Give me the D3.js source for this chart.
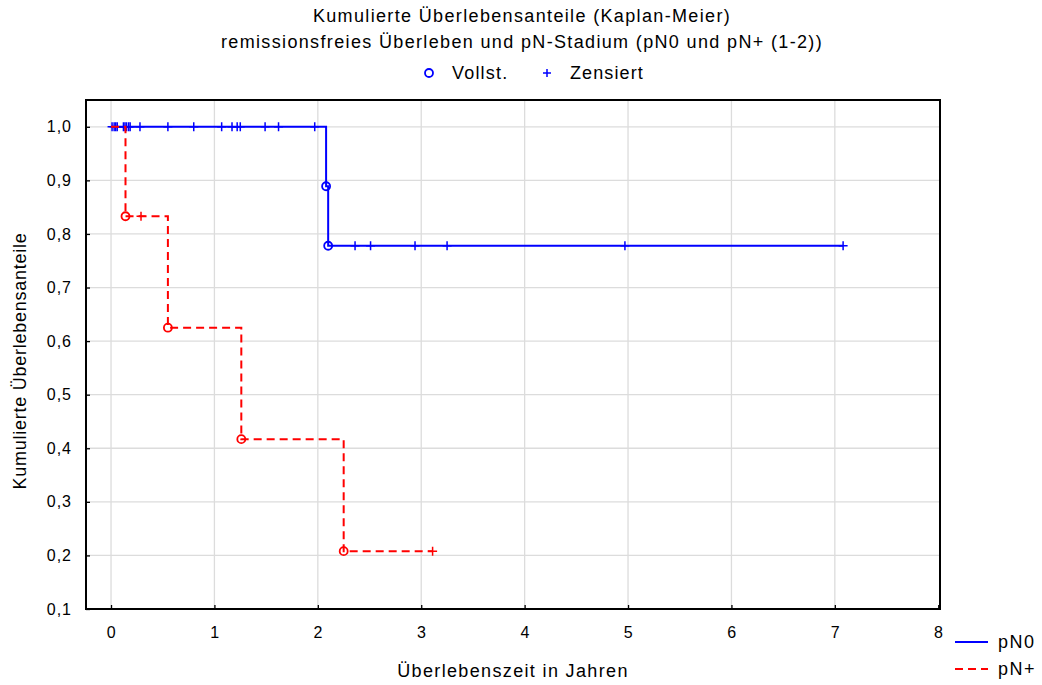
<!DOCTYPE html>
<html>
<head>
<meta charset="utf-8">
<script src="https://cdn.jsdelivr.net/npm/d3@7/dist/d3.min.js"></script>
<style>
	body { margin: 0; background: #fff; }
	text { font-family: "Liberation Sans", Arial, sans-serif; fill: #000; }
</style>
</head>
<body>
<svg id="chart" width="1042" height="685"></svg>
<script>
// Kaplan-Meier steps [time, survival]
const pN0Steps = [[0, 1], [2.08, 0.889], [2.10, 0.778], [7.08, 0.778]]
const pN0Events = [2.08, 2.10]
const pN0Censored = [0.01, 0.03, 0.045, 0.06, 0.12, 0.135, 0.15, 0.17, 0.185, 0.28, 0.55, 0.80,
	1.07, 1.17, 1.22, 1.25, 1.49, 1.62, 1.97, 2.36, 2.51, 2.94, 3.25, 4.97, 7.08]

const pNplusSteps = [[0, 1], [0.14, 0.833], [0.55, 0.625], [1.26, 0.417], [2.25, 0.208], [3.11, 0.208]]
const pNplusEvents = [0.14, 0.55, 1.26, 2.25]
const pNplusCensored = [0.29, 3.11]

const xTicks = [0, 1, 2, 3, 4, 5, 6, 7, 8]
const yTicks = [0.1, 0.2, 0.3, 0.4, 0.5, 0.6, 0.7, 0.8, 0.9, 1.0]

const titleLines = ["Kumulierte Überlebensanteile (Kaplan-Meier)",
	"remissionsfreies Überleben und pN-Stadium (pN0 und pN+ (1-2))"]

const svg = d3.select("#chart")

const x = d3.scaleLinear().domain([-0.242, 8.017]).range([86, 940])
const y = d3.scaleLinear().domain([0.1, 1.05]).range([609, 100])

//survival value at time t (value after step)
function survAt(steps, t) {
	let s = steps[0][1]
	for (let [st, sv] of steps) if (st <= t) s = sv
	return s
}

// grid
svg.append("g").selectAll("line")
	.data(xTicks.filter(d => d < 8))
	.join("line")
		.attr("x1", d => x(d)).attr("x2", d => x(d))
		.attr("y1", y(0.1)).attr("y2", y(1.05))
		.attr("stroke", "#dcdcdc").attr("stroke-width", 1.3)
svg.append("g").selectAll("line")
	.data(yTicks.filter(d => d > 0.1))
	.join("line")
		.attr("y1", d => y(d)).attr("y2", d => y(d))
		.attr("x1", x.range()[0]).attr("x2", x.range()[1])
		.attr("stroke", "#dcdcdc").attr("stroke-width", 1.3)

// axes
const xAxis = d3.axisBottom(x).tickValues(xTicks).tickSize(-4).tickPadding(18).tickFormat(d3.format("d"))
const yAxis = d3.axisLeft(y).tickValues(yTicks).tickSize(-4).tickPadding(14)
	.tickFormat(d => d3.format(".1f")(d).replace(".", ","))

svg.append("g").attr("transform", `translate(0,${y(0.1)})`).call(xAxis)
	.call(g => g.select(".domain").remove())
	.call(g => g.selectAll("text").attr("font-size", 16).attr("font-family", null).attr("letter-spacing", 0.5))
	.call(g => g.selectAll("line").attr("stroke", "#000").attr("stroke-width", 1.3))
svg.append("g").attr("transform", `translate(${x.range()[0]},0)`).call(yAxis)
	.call(g => g.select(".domain").remove())
	.call(g => g.selectAll("text").attr("font-size", 16).attr("font-family", null).attr("letter-spacing", 1))
	.call(g => g.selectAll("line").attr("stroke", "#000").attr("stroke-width", 1.3))

// frame
svg.append("rect")
	.attr("x", x.range()[0]).attr("y", y(1.05))
	.attr("width", x.range()[1] - x.range()[0]).attr("height", y(0.1) - y(1.05))
	.attr("fill", "none").attr("stroke", "#000").attr("stroke-width", 2)

const stepLine = d3.line().x(d => x(d[0])).y(d => y(d[1])).curve(d3.curveStepAfter)

function drawSeries(steps, events, censored, color, dash) {
	const g = svg.append("g")
	g.append("path")
		.attr("d", stepLine(steps))
		.attr("fill", "none").attr("stroke", color).attr("stroke-width", 2)
		.attr("stroke-dasharray", dash)
	g.selectAll("circle")
		.data(events)
		.join("circle")
			.attr("cx", d => x(d)).attr("cy", d => y(survAt(steps, d)))
			.attr("r", 4).attr("fill", "none").attr("stroke", color).attr("stroke-width", 1.8)
	g.selectAll("path.cens")
		.data(censored)
		.join("path")
			.classed("cens", true)
			.attr("d", d => {
				let cx = x(d), cy = y(survAt(steps, d))
				return `M${cx - 4.5},${cy}H${cx + 4.5}M${cx},${cy - 4.5}V${cy + 4.5}`
			})
			.attr("stroke", color).attr("stroke-width", 1.5)
}

drawSeries(pN0Steps, pN0Events, pN0Censored, "#0000ff", null)
drawSeries(pNplusSteps, pNplusEvents, pNplusCensored, "#ff0000", "8,5")

// titles
svg.selectAll("text.title")
	.data(titleLines)
	.join("text")
		.classed("title", true)
		.attr("x", 522).attr("y", (d, i) => 22 + i * 26)
		.attr("text-anchor", "middle").attr("font-size", 18).attr("letter-spacing", 1.35)
		.text(d => d)

// symbol legend
const topLeg = svg.append("g")
topLeg.append("circle").attr("cx", 429).attr("cy", 73).attr("r", 4)
	.attr("fill", "none").attr("stroke", "#0000ff").attr("stroke-width", 1.8)
topLeg.append("text").attr("x", 452).attr("y", 79).attr("font-size", 18).attr("letter-spacing", 1.2).text("Vollst.")
topLeg.append("path").attr("d", "M543,73H551M547,69V77").attr("stroke", "#0000ff").attr("stroke-width", 1.5)
topLeg.append("text").attr("x", 570).attr("y", 79).attr("font-size", 18).attr("letter-spacing", 1.1).text("Zensiert")

// axis titles
svg.append("text").attr("x", 513).attr("y", 677).attr("text-anchor", "middle")
	.attr("font-size", 18).attr("letter-spacing", 1.35).text("Überlebenszeit in Jahren")
svg.append("text").attr("transform", "translate(26,361) rotate(-90)")
	.attr("text-anchor", "middle").attr("font-size", 18).attr("letter-spacing", 0.75).text("Kumulierte Überlebensanteile")

// series legend
const seriesLeg = [{name: "pN0", color: "#0000ff", dash: null}, {name: "pN+", color: "#ff0000", dash: "8,5"}]
const leg = svg.append("g").selectAll("g").data(seriesLeg).join("g")
	.attr("transform", (d, i) => `translate(955,${642 + i * 27})`)
leg.append("line").attr("x1", 0).attr("x2", 33)
	.attr("stroke", d => d.color).attr("stroke-width", 2).attr("stroke-dasharray", d => d.dash)
leg.append("text").attr("x", 43).attr("y", 6).attr("font-size", 18).attr("letter-spacing", 1.5).text(d => d.name)
</script>
</body>
</html>
